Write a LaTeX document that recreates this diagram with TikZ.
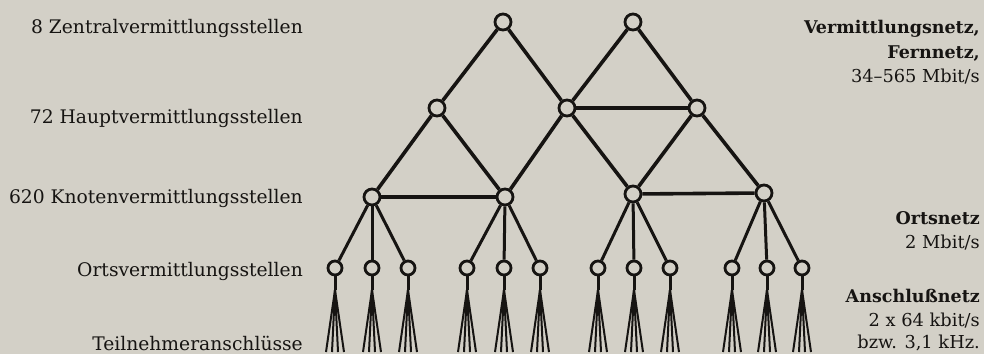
\documentclass[tikz,border=0pt]{standalone}
\usepackage{fontspec}
\setmainfont{DejaVu Serif}
\definecolor{paper}{RGB}{211,208,199}
\definecolor{ink}{RGB}{22,20,18}
\begin{document}
\begin{tikzpicture}[x=1pt,y=-1pt,
  nd/.style={circle,draw=ink,fill=paper,line width=2.8pt,minimum size=16pt,inner sep=0pt},
  sn/.style={circle,draw=ink,fill=paper,line width=2.8pt,minimum size=14pt,inner sep=0pt},
  ln/.style={draw=ink,line width=3.6pt},
  lf/.style={draw=ink,line width=2pt},
  lab/.style={text=ink,inner sep=0pt,anchor=base east},
  labl/.style={lab,font=\fontsize{18.7}{21}\selectfont},
  labr/.style={lab,font=\fontsize{17.8}{20}\selectfont},
  labb/.style={lab,font=\fontsize{17.5}{20}\selectfont\bfseries}]
\fill[paper] (0,0) rectangle (984,354);
\useasboundingbox (0,0) rectangle (984,354);
% leaf fans
\foreach \x [count=\i] in {335,372,408,467,504,540,598,634,670,732,767,802}{
  \coordinate (s\i) at (\x,290);
  \foreach \d [count=\k] in {-9,-3,3,9}{
    \coordinate (s\i-\k) at (\x+\d,352);
    \draw[lf] (s\i) -- (s\i-\k);
  }
}
% level nodes
\node[nd] (a1) at (503,22) {};
\node[nd] (a2) at (633,22) {};
\node[nd] (b1) at (437,108) {};
\node[nd] (b2) at (567,108) {};
\node[nd] (b3) at (697,108) {};
\node[nd] (c1) at (372,197) {};
\node[nd] (c2) at (505,197) {};
\node[nd] (c3) at (633,194) {};
\node[nd] (c4) at (764,193) {};
\foreach \x [count=\i] in {335,372,408,467,504,540,598,634,670,732,767,802}
  \node[sn] (d\i) at (\x,268) {};
% connectors
\draw[ln] (a1) -- (b1); \draw[ln] (a1) -- (b2);
\draw[ln] (a2) -- (b2); \draw[ln] (a2) -- (b3);
\draw[ln] (b2) -- (b3);
\draw[ln] (b1) -- (c1); \draw[ln] (b1) -- (c2);
\draw[ln] (b2) -- (c2); \draw[ln] (b2) -- (c3);
\draw[ln] (b3) -- (c3); \draw[ln] (b3) -- (c4);
\draw[ln] (c1) -- (c2); \draw[ln] (c3) -- (c4);
\foreach \p/\a/\b/\c in {c1/d1/d2/d3,c2/d4/d5/d6,c3/d7/d8/d9,c4/d10/d11/d12}{
  \draw[ln,line width=3pt] (\p) -- (\a);
  \draw[ln,line width=3pt] (\p) -- (\b);
  \draw[ln,line width=3pt] (\p) -- (\c);
}
\foreach \i in {1,...,12}
  \draw[ln,line width=3pt] (d\i) -- (s\i);
% left labels
\node[labl] (t1) at (303,33) {8 Zentralvermittlungsstellen};
\node[labl] (t2) at (303,123) {72 Hauptvermittlungsstellen};
\node[labl] (t3) at (303,203) {620 Knotenvermittlungsstellen};
\node[labl] (t4) at (303,276) {Ortsvermittlungsstellen};
\node[labl] (t5) at (303,350) {Teilnehmeranschlüsse};
% right labels
\node[labb] (r1) at (980,33) {Vermittlungsnetz,};
\node[labb] (r2) at (980,58) {Fernnetz,};
\node[labr] (r3) at (980,82) {34–565 Mbit/s};
\node[labb] (r4) at (980,224) {Ortsnetz};
\node[labr] (r5) at (980,248) {2 Mbit/s};
\node[labb] (r6) at (980,302) {Anschlußnetz};
\node[labr] (r7) at (980,326) {2 x 64 kbit/s};
\node[labr] (r8) at (980,348) {bzw. 3,1 kHz.};
\end{tikzpicture}
\end{document}
